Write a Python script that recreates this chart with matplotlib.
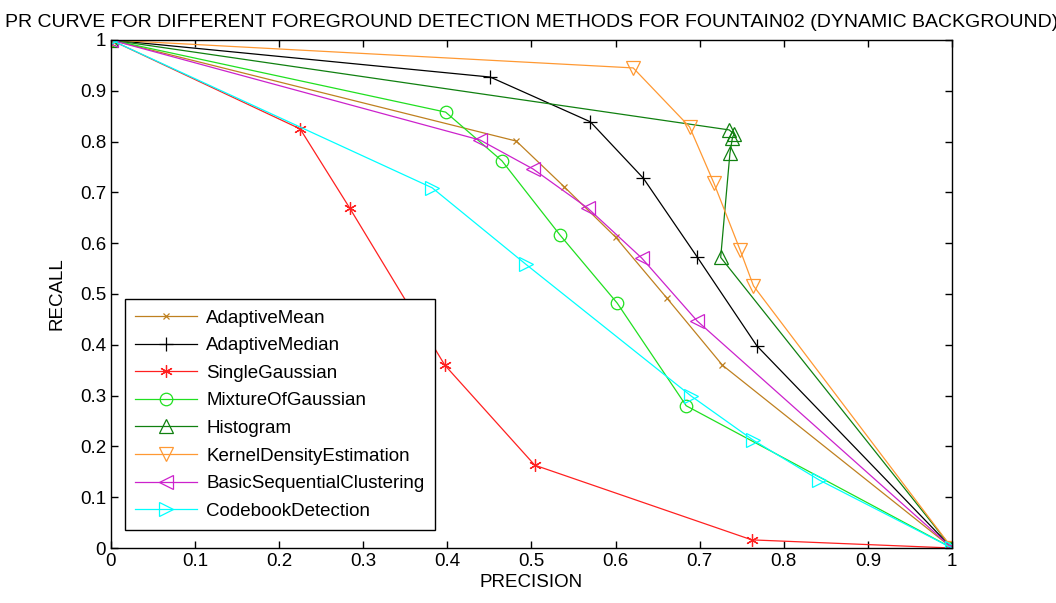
import matplotlib
matplotlib.use("Agg")
import matplotlib.pyplot as plt
import numpy as np

plt.rcParams['font.family'] = ['Liberation Sans', 'DejaVu Sans']

names = ["AdaptiveMean", "AdaptiveMedian", "SingleGaussian", "MixtureOfGaussian",
         "Histogram", "KernelDensityEstimation", "BasicSequentialClustering",
         "CodebookDetection"]

mean_p = [0, 0.482, 0.539, 0.600, 0.661, 0.727, 1]
mean_r = [1, 0.801, 0.711, 0.612, 0.492, 0.360, 0]

median_p = [0, 0.451, 0.570, 0.633, 0.697, 0.768, 1]
median_r = [1, 0.927, 0.839, 0.728, 0.573, 0.398, 0]

single_p = [0, 0.225, 0.284, 0.397, 0.504, 0.762, 1]
single_r = [1, 0.825, 0.669, 0.360, 0.163, 0.016, 0]

mog_p = [0, 0.398, 0.465, 0.534, 0.602, 0.684, 1]
mog_r = [1, 0.858, 0.762, 0.616, 0.482, 0.280, 0]

hist_p = [0, 0.735, 0.741, 0.739, 0.736, 0.725, 1]
hist_r = [1, 0.823, 0.815, 0.808, 0.777, 0.572, 0]

kde_p = [0, 0.621, 0.688, 0.717, 0.748, 0.764, 1]
kde_r = [1, 0.945, 0.829, 0.718, 0.587, 0.516, 0]

bsc_p = [0, 0.439, 0.502, 0.567, 0.631, 0.697, 1]
bsc_r = [1, 0.803, 0.746, 0.669, 0.571, 0.447, 0]

code_p = [0, 0.382, 0.493, 0.690, 0.763, 0.842, 1]
code_r = [1, 0.709, 0.559, 0.299, 0.213, 0.134, 0]

series = [(mean_p, mean_r), (median_p, median_r), (single_p, single_r), (mog_p, mog_r),
          (hist_p, hist_r), (kde_p, kde_r), (bsc_p, bsc_r), (code_p, code_r)]
colors = ['#BF8020', 'black', '#FF2020', '#20E020', '#108010', '#FF9933', '#CC22CC', '#00FFFF']
markers = ['x', '+', (6, 2, 0), 'o', '^', 'v', '<', '>']
msizes = [5, 10, 9, 9, 10, 10, 10, 10]

fig = plt.figure(figsize=(10.56, 6.03), dpi=100)
ax = fig.add_axes([0.105, 0.0912, 0.7965, 0.8425])

for (p, r), c, m, ms, n in zip(series, colors, markers, msizes, names):
    ax.plot(p, r, color=c, marker=m, markersize=ms, markerfacecolor='none',
            markeredgecolor=c, linewidth=0.9, markeredgewidth=0.9, label=n)

ticklabels = ['0', '0.1', '0.2', '0.3', '0.4', '0.5', '0.6', '0.7', '0.8', '0.9', '1']
ax.set_xlim(0, 1)
ax.set_ylim(0, 1)
ax.set_xticks(np.arange(0, 1.01, 0.1))
ax.set_yticks(np.arange(0, 1.01, 0.1))
ax.set_xticklabels(ticklabels)
ax.set_yticklabels(ticklabels)
ax.tick_params(direction='in', top=True, right=True, labelsize=13.5, length=5, width=1)
for s in ax.spines.values():
    s.set_linewidth(1)

ax.set_xlabel('PRECISION', fontsize=13.5, labelpad=3)
ax.set_ylabel('RECALL', fontsize=13.5, labelpad=10)
ax.set_title('PR CURVE FOR DIFFERENT FOREGROUND DETECTION METHODS FOR FOUNTAIN02 (DYNAMIC BACKGROUND)',
             fontsize=14, pad=9)

leg = ax.legend(loc='lower left', bbox_to_anchor=(0.0166, 0.035), borderaxespad=0,
                fontsize=13.5, fancybox=False, edgecolor='black', framealpha=1,
                handlelength=3.3, handletextpad=0.5, labelspacing=0.56, borderpad=0.55)
leg.get_frame().set_linewidth(1)

fig.savefig('out.png', dpi=100)
